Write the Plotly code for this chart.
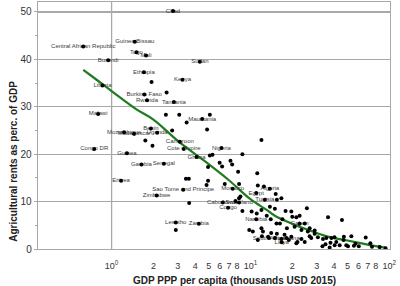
import math
import plotly.graph_objects as go

# Labelled countries: GDP PPP per capita (thousands USD 2015), agricultural rents (% GDP)
countries = ["Chad", "Central African Republic", "Guinea Bissau", "Togo", "Mali", "Burundi",
             "Sudan", "Ethiopia", "Kenya", "Liberia", "Burkina Faso", "Rwanda", "Tanzania",
             "Malawi", "Mauritania", "Benin", "Mozambique", "Madagascar", "Uganda", "Cameroon",
             "Cote d'Ivoire", "Congo DR", "Guinea", "Ghana", "Nigeria", "Gambia", "Senegal",
             "Eritrea", "Sao Tome and Principe", "Zimbabwe", "Lesotho", "Zambia", "Morocco",
             "Egypt", "Algeria", "Tunisia", "Cabo Verde", "Swaziland", "Congo", "Namibia",
             "Gabon", "South Africa", "Botswana", "Libya"]
country_gdp = [2.77, 0.625, 1.47, 1.51, 1.77, 0.945,
               4.32, 1.71, 3.24, 0.86, 1.72, 1.80, 2.81,
               0.80, 4.49, 1.92, 1.23, 1.45, 2.13, 3.10,
               3.31, 0.75, 1.29, 4.09, 6.18, 1.64, 2.38,
               1.17, 3.28, 2.11, 2.90, 4.25, 7.45,
               11.0, 13.8, 12.7, 6.32, 8.28, 6.9, 11.0,
               22.6, 13.6, 18.2, 16.8]
country_rent = [50.2, 42.7, 43.7, 41.5, 40.8, 39.8,
                39.5, 37.3, 35.7, 34.5, 32.6, 31.4, 31.0,
                28.5, 27.4, 25.4, 24.6, 24.3, 24.5, 22.6,
                21.1, 21.1, 20.2, 19.4, 21.3, 17.8, 18.0,
                14.4, 12.5, 11.3, 5.6, 5.3, 12.7,
                11.8, 12.7, 10.4, 9.8, 9.8, 8.7, 6.3,
                5.3, 2.3, 2.3, 1.4]

# Other (unlabelled) countries
other_gdp = [1.94, 2.49, 2.46, 3.07, 5.10, 3.47, 4.87, 2.73, 1.75, 1.97,
             12.0, 8.75, 5.10, 5.33, 6.0, 6.25, 7.18, 7.38, 4.95, 3.43,
             3.60, 4.95, 4.83, 3.62, 2.90, 8.15, 6.53, 8.28, 8.47, 8.28,
             7.8, 11.2, 11.3, 12.5, 15.2, 16.7, 15.5, 13.8, 8.75, 10.2,
             12.0, 15.0, 17.9, 19.7, 9.8, 12.0, 12.3, 25.5, 36.2, 45.6,
             11.1, 13.1, 14.0, 15.4, 16.3, 17.0, 20.0, 21.4, 22.6, 18.3,
             20.8, 23.3, 25.9, 29.0, 29.0, 27.4, 30.6, 33.0, 35.2, 37.7,
             40.3, 41.5, 43.9, 46.8, 50.4, 53.3, 57.1, 60.3, 67.6, 73.0,
             85.2, 94.0, 10.4, 13.4, 14.1, 15.0, 15.5, 16.7, 17.6, 18.9,
             19.7, 21.4, 23.3, 24.6, 26.7, 12.1, 11.3, 24.6, 26.7, 33.3,
             38.3, 40.4, 47.1, 49.0, 55.6, 75.0, 34.7, 37.2, 21.8]
other_rent = [35.2, 33.0, 28.3, 28.3, 28.3, 26.7, 25.2, 25.0, 22.9, 21.8,
              23.0, 20.0, 19.7, 19.9, 18.2, 17.4, 18.6, 17.8, 17.3, 14.8,
              14.8, 14.4, 13.5, 9.7, 4.0, 16.3, 13.7, 13.7, 11.1, 10.7,
              10.1, 16.0, 13.4, 13.2, 11.6, 10.7, 10.4, 8.9, 8.0, 7.9,
              8.2, 8.5, 8.0, 7.9, 4.0, 4.4, 3.7, 8.6, 6.7, 6.1,
              7.5, 7.0, 6.3, 5.4, 5.4, 6.3, 6.8, 6.7, 7.0, 4.4,
              4.7, 4.0, 3.7, 3.9, 3.2, 2.3, 2.5, 0.6, 2.3, 1.3,
              2.5, 1.5, 0.8, 1.9, 0.6, 2.7, 1.1, 0.6, 2.4, 1.2,
              0.4, 0.15, 3.7, 2.6, 3.4, 2.3, 3.2, 2.1, 3.0, 1.9,
              2.6, 1.2, 2.1, 1.5, 2.7, 2.7, 1.9, 5.4, 4.4, 2.1,
              2.3, 0.8, 2.6, 0.8, 0.7, 0.5, 1.0, 0.3, 1.5]

# Smoothed trend
trend_gdp = [0.625, 0.78, 1.0, 1.5, 2, 3, 4, 5, 7, 10, 13, 15, 20, 25, 36, 50, 63, 80, 94]
trend_rent = [37.8, 35.7, 33.3, 29.5, 27.3, 22.8, 20.0, 17.9, 14.5, 10.5, 8.3, 7.0, 5.3,
              4.2, 2.6, 1.8, 1.2, 0.6, 0.3]

x_tickvals = [1, 2, 3, 4, 5, 6, 7, 8, 10, 20, 30, 40, 50, 60, 70, 80, 100]
x_ticktext = ["10<sup>0</sup>", "2", "3", "4", "5", "6", "7", "8", "10<sup>1</sup>",
              "2", "3", "4", "5", "6", "7", "8", "10<sup>2</sup>"]
x_grid = [1, 10]

FONT = "Liberation Sans, Arial, sans-serif"
GRID = "#a8a8a8"

fig = go.Figure()
fig.add_trace(go.Scatter(x=trend_gdp, y=trend_rent, mode="lines",
                         line=dict(color="#1e7b1e", width=2.2, shape="spline"),
                         hoverinfo="skip"))
fig.add_trace(go.Scatter(x=country_gdp, y=country_rent, mode="text", text=countries,
                         textposition="middle center",
                         textfont=dict(family=FONT, size=6, color="#3a3a3a")))
fig.add_trace(go.Scatter(x=other_gdp + country_gdp, y=other_rent + country_rent,
                         mode="markers", marker=dict(color="black", size=4)))

shapes = [dict(type="line", xref="x", yref="paper", x0=math.log10(v), x1=math.log10(v),
               y0=0, y1=1, line=dict(color=GRID, width=1.3), layer="below") for v in x_grid]

fig.update_layout(
    width=400, height=286,
    margin=dict(l=38, r=10, t=2, b=37),
    paper_bgcolor="white", plot_bgcolor="white",
    showlegend=False,
    font=dict(family=FONT, color="#333"),
    shapes=shapes,
    xaxis=dict(type="log", range=[-0.53, 2.005], tickvals=x_tickvals, ticktext=x_ticktext,
               showgrid=False, zeroline=False, showline=True, mirror=True,
               linecolor=GRID, linewidth=1.3, ticks="", ticklabelstandoff=8,
               tickfont=dict(size=9, color="#333")),
    yaxis=dict(range=[0, 52.1], tickvals=[0, 10, 20, 30, 40, 50], showgrid=True,
               gridcolor=GRID, gridwidth=1.3, zeroline=False, showline=True, mirror=True,
               linecolor=GRID, linewidth=1.3, ticks="outside", ticklen=3, tickcolor=GRID,
               tickfont=dict(size=10, color="#333"),
               minor=dict(tickvals=[5, 15, 25, 35, 45], ticks="outside", ticklen=2,
                          tickcolor=GRID, showgrid=False)),
    annotations=[
        dict(text="<b>GDP PPP per capita (thousands USD 2015)</b>", xref="paper", yref="paper",
             x=0.557, y=-0.126, xanchor="center", yanchor="middle", showarrow=False,
             font=dict(size=10, color="#222")),
        dict(text="<b>Agricultural rents as perc. of GDP</b>", xref="paper", yref="paper",
             x=-0.072, y=0.356, xanchor="center", yanchor="middle", showarrow=False,
             textangle=-90, font=dict(size=10, color="#222")),
    ],
)

fig.write_html("out.html",
               config={"displayModeBar": False, "staticPlot": True},
               post_script="document.body.style.margin='0';document.body.style.overflow='hidden';")
